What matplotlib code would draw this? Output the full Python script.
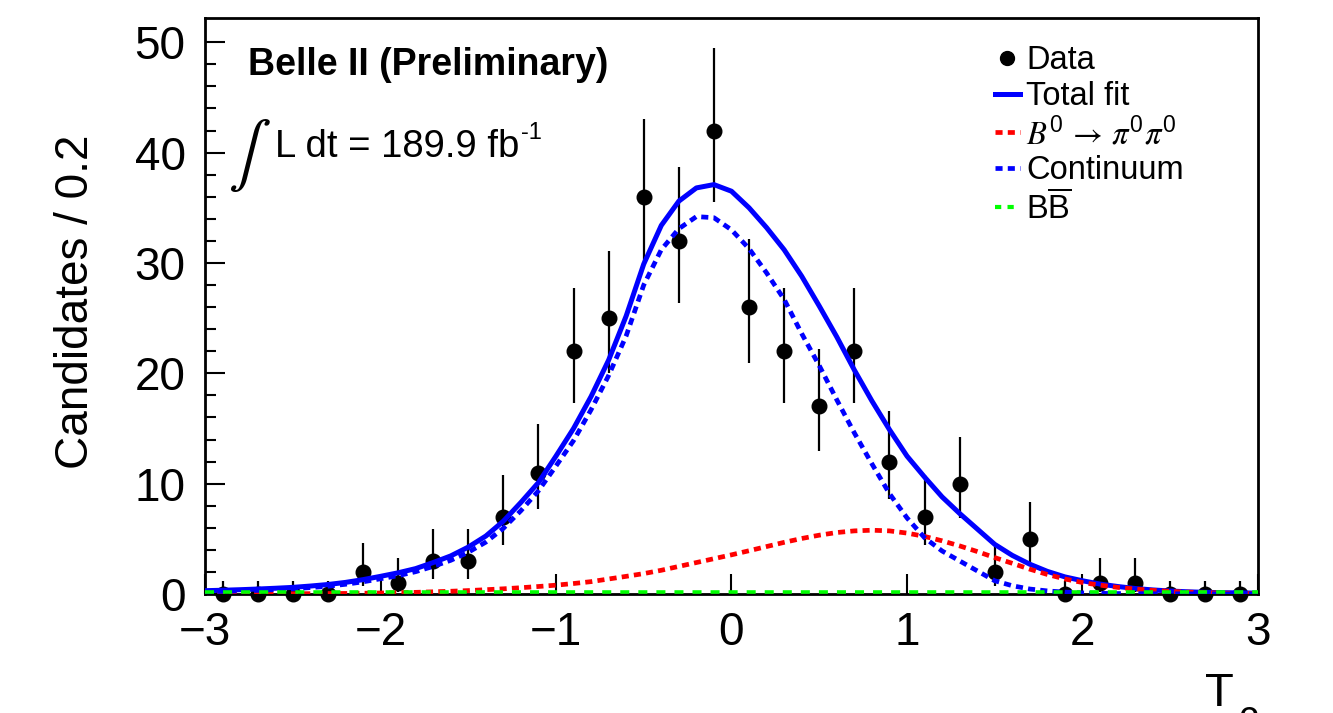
import matplotlib.pyplot as plt
import numpy as np
from matplotlib.lines import Line2D

plt.rcParams['font.family'] = ['Liberation Sans', 'DejaVu Sans']
plt.rcParams['mathtext.fontset'] = 'stix'

# binned data (bin width 0.2)
bin_centers = np.round(np.arange(-2.9, 3.0, 0.2), 1)
counts = [0, 0, 0, 0, 2, 1, 3, 3, 7, 11, 22, 25, 36, 32, 42,
          26, 22, 17, 22, 12, 7, 10, 2, 5, 0, 1, 1, 0, 0, 0]
# asymmetric poisson errors
err_lo = [0, 0, 0, 0, 1.29, 0.83, 1.63, 1.63, 2.58, 3.27, 4.66, 4.97, 5.97, 5.63, 6.45,
          5.07, 4.66, 4.08, 4.66, 3.41, 2.58, 3.11, 1.29, 2.16, 0, 0.83, 0.83, 0, 0, 0]
err_hi = [1.15, 1.15, 1.15, 1.15, 2.64, 2.30, 2.92, 2.92, 3.77, 4.41, 5.75, 6.05, 7.02, 6.69, 7.49,
          6.14, 5.75, 5.19, 5.75, 4.55, 3.77, 4.26, 2.64, 3.38, 1.15, 2.30, 2.30, 1.15, 1.15, 1.15]

# fit curves, sampled every 0.1 from -3 to 3
curve_x = np.round(np.linspace(-3, 3, 61), 1)
total_fit = [0.30, 0.34, 0.39, 0.45, 0.52, 0.60, 0.72, 0.86, 1.05, 1.30,
             1.60, 1.92, 2.30, 2.85, 3.45, 4.25, 5.25, 6.60, 8.30, 10.1,
             12.5, 15.0, 17.9, 21.2, 25.2, 29.9, 33.4, 35.6, 36.8, 37.1,
             36.5, 35.0, 33.2, 31.2, 28.8, 26.1, 23.3, 20.3, 17.5, 14.9,
             12.5, 10.6, 8.8, 7.3, 5.9, 4.5, 3.5, 2.7, 2.05, 1.55,
             1.20, 0.90, 0.68, 0.50, 0.37, 0.27, 0.20, 0.15, 0.12, 0.10,
             0.08]
continuum = [0.20, 0.24, 0.28, 0.33, 0.40, 0.47, 0.58, 0.70, 0.88, 1.10,
             1.38, 1.66, 2.02, 2.50, 3.05, 3.78, 4.70, 5.95, 7.55, 9.35,
             11.6, 13.9, 16.7, 19.8, 23.4, 28.0, 31.2, 33.1, 34.2, 34.1,
             33.0, 31.3, 29.1, 26.7, 23.6, 20.7, 17.6, 14.6, 11.8, 9.1,
             6.9, 5.1, 3.9, 3.0, 2.1, 1.2, 0.75, 0.45, 0.28, 0.17,
             0.10, 0.06, 0.04, 0.03, 0.02, 0.02, 0.01, 0.01, 0.01, 0.01,
             0.01]
signal = [0.00, 0.01, 0.01, 0.02, 0.02, 0.03, 0.03, 0.04, 0.05, 0.07,
          0.09, 0.12, 0.15, 0.20, 0.25, 0.31, 0.39, 0.47, 0.57, 0.68,
          0.80, 0.95, 1.12, 1.36, 1.60, 1.85, 2.15, 2.50, 2.85, 3.20,
          3.55, 3.92, 4.30, 4.68, 5.03, 5.33, 5.57, 5.72, 5.78, 5.72,
          5.52, 5.22, 4.82, 4.36, 3.85, 3.30, 2.78, 2.25, 1.77, 1.36,
          1.04, 0.80, 0.60, 0.45, 0.33, 0.24, 0.17, 0.12, 0.08, 0.05,
          0.03]
bb_x = [-3.0, 3.0]
bb = [0.18, 0.18]

fig = plt.figure(figsize=(13.33, 7.13), dpi=100)
ax = fig.add_axes([0.1538, 0.1669, 0.7899, 0.8079])

ax.errorbar(bin_centers, counts, yerr=[err_lo, err_hi], fmt='o', color='black',
            markersize=10.5, elinewidth=1.6, capsize=0, zorder=2, clip_on=False)
ax.plot(curve_x, total_fit, color='#0000ff', lw=3.6, zorder=3)
ax.plot(curve_x, signal, color='#ff0000', lw=3.4, ls=(0, (1.5, 1.1)), zorder=4)
ax.plot(curve_x, continuum, color='#0000ff', lw=3.4, ls=(0, (1.5, 1.1)), zorder=5)
ax.plot(bb_x, bb, color='#00ff00', lw=2.6, ls=(0, (2.5, 2.5)), zorder=6, clip_on=False)

ax.set_xlim(-3, 3)
ax.set_ylim(0, 52.2)
ax.set_xticks([-3, -2, -1, 0, 1, 2, 3])
ax.set_xticklabels(['\u22123', '\u22122', '\u22121', '0', '1', '2', '3'])
ax.set_yticks([0, 10, 20, 30, 40, 50])
ax.set_yticks(np.arange(0, 52, 2), minor=True)
ax.tick_params(axis='both', which='both', direction='in', width=1.5, labelsize=33)
ax.tick_params(axis='both', which='major', length=14.5)
ax.tick_params(axis='y', which='minor', length=8)
ax.tick_params(axis='x', which='major', pad=12)
ax.tick_params(axis='y', which='major', pad=14)
for s in ax.spines.values():
    s.set_linewidth(2.0)

ax.set_ylabel('Candidates / 0.2', fontsize=33)
ax.yaxis.set_label_coords(-0.102, 0.507)
fig.text(1205 / 1333, 1 - 672 / 713, 'T', fontsize=34, va='top', ha='left')
fig.text(1238 / 1333, 1 - 700 / 713, 'c', fontsize=28, va='top', ha='left')

ax.text(0.0408, 0.918, 'Belle II (Preliminary)', transform=ax.transAxes,
        fontsize=27, fontweight='bold', va='center', ha='left')
ax.text(0.042, 0.762, r'$\int$', transform=ax.transAxes, fontsize=46,
        va='center', ha='center')
lumi = ax.text(0.0665, 0.776, 'L dt = 189.9 fb', transform=ax.transAxes,
               fontsize=27.5, va='center', ha='left')
ax.annotate('-1', xy=(1.0, 1.0), xycoords=lumi, xytext=(1, 5),
            textcoords='offset points', fontsize=17, va='top', ha='left')

handles = [
    Line2D([], [], marker='o', ls='none', color='black', markersize=10),
    Line2D([], [], color='#0000ff', lw=3.6),
    Line2D([], [], color='#ff0000', lw=3.4, ls=(0, (1.5, 1.1))),
    Line2D([], [], color='#0000ff', lw=3.4, ls=(0, (1.5, 1.1))),
    Line2D([], [], color='#00ff00', lw=3.0, ls=(0, (1.5, 1.5))),
]
labels = ['Data', 'Total fit', r'$B^{\mathregular{0}}\,\rightarrow\,\pi^{\mathregular{0}}\pi^{\mathregular{0}}$',
          'Continuum', r'B$\overline{\mathregular{B}}$']
ax.legend(handles, labels, loc='upper left', bbox_to_anchor=(0.738, 0.975),
          frameon=False, fontsize=23.5, handlelength=0.75, handletextpad=0.2,
          labelspacing=0.14, borderaxespad=0)

fig.savefig('out.png', dpi=100)
